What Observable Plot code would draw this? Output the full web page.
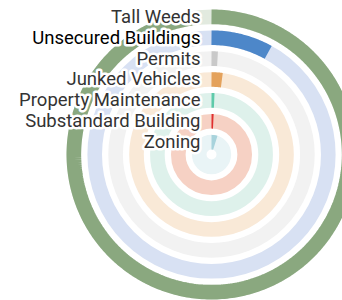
<!DOCTYPE html>
<html>
<head>
<meta charset="utf-8">
<script src="https://cdn.jsdelivr.net/npm/d3@7"></script>
<script src="https://cdn.jsdelivr.net/npm/@observablehq/plot@0.6"></script>
<style>
  html, body { margin: 0; padding: 0; background: #fff; }
  svg { display: block; }
</style>
</head>
<body>
<div id="chart"></div>
<script>
// Categories from outermost to innermost ring
const categories = ["Tall Weeds", "Unsecured Buildings", "Permits", "Junked Vehicles", "Property Maintenance", "Substandard Building", "Zoning"];
// Violation counts
const values = [1465, 121, 15, 33, 12, 13, 75];
// Bar colours and ring background colours
const barColors = ["#8aa87f", "#4d87c9", "#c9c9c9", "#e4a25c", "#5ecaaa", "#df2f2f", "#a8d3dc"];
const trackColors = ["#e2eadf", "#d8e1f3", "#f2f2f2", "#f9e9d7", "#def1eb", "#f6d1c4", "#e9f4f6"];
const highlighted = ["Unsecured Buildings"];
const maxValue = 1500;

const cx = 211, cy = 154, W = 342, H = 300;
const innerR = 5, outerR = 145;

// radial band scale and angular scale (Plot's own scales)
const rScale = Plot.scale({x: {type: "band", domain: categories.slice().reverse(), range: [innerR, outerR], paddingInner: 0.3, paddingOuter: 0}});
const aScale = Plot.scale({x: {type: "linear", domain: [0, maxValue], range: [0, 2 * Math.PI]}});
const bw = rScale.bandwidth;
const rMid = c => rScale.apply(c) + bw / 2;

const rows = categories.map((c, i) => ({category: c, value: values[i], bar: barColors[i], track: trackColors[i], r: rMid(c)}));

// arc path points for each bar (angle measured clockwise from top)
const arcPts = rows.flatMap(d => {
  const a1 = aScale.apply(d.value);
  const n = Math.max(2, Math.ceil(a1 / (Math.PI / 180)) + 1);
  return d3.range(n).map(k => {
    const a = a1 * k / (n - 1);
    return {category: d.category, color: d.bar, x: d.r * Math.sin(a), y: d.r * Math.cos(a)};
  });
});

const textOpts = {x: () => -11, y: "r", text: "category", textAnchor: "end", lineAnchor: "middle",
  fontSize: 18.5, fontFamily: "Roboto", stroke: "white", strokeWidth: 5};

const chart = Plot.plot({
  width: W,
  height: H,
  margin: 0,
  x: {domain: [-cx, W - cx], range: [0, W], axis: null},
  y: {domain: [cy - H, cy], range: [H, 0], axis: null},
  color: {type: "identity"},
  r: {type: "identity"},
  marks: [
    Plot.dot(rows, {x: () => 0, y: () => 0, r: "r", fill: "none", stroke: "track", strokeWidth: bw}),
    Plot.line(arcPts, {x: "x", y: "y", z: "category", stroke: "color", strokeWidth: bw, strokeLinecap: "butt", strokeLinejoin: "miter", curve: "linear"}),
    Plot.text(rows.filter(d => !highlighted.includes(d.category)), {...textOpts, fill: "#333"}),
    Plot.text(rows.filter(d => highlighted.includes(d.category)), {...textOpts, fill: "#000"})
  ]
});
document.getElementById("chart").appendChild(chart);
</script>
</body>
</html>
